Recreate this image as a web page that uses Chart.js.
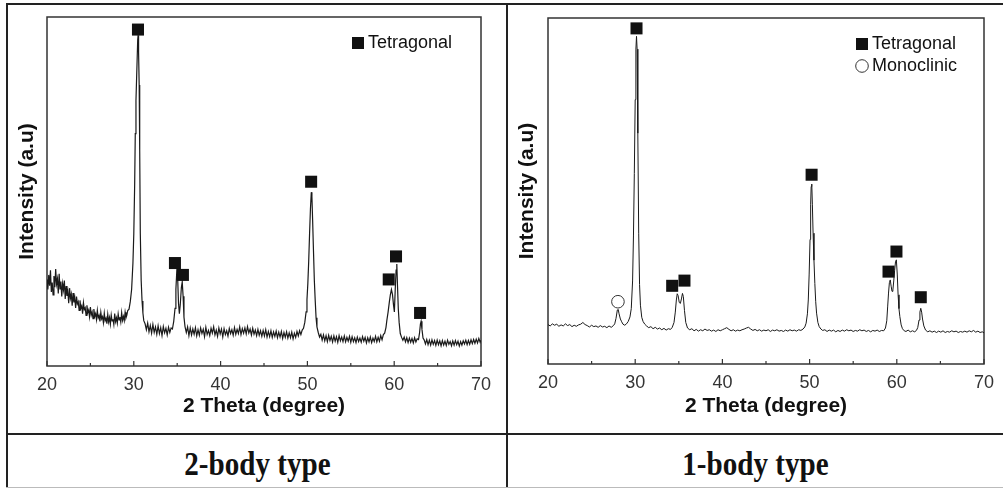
<!DOCTYPE html>
<html>
<head>
<meta charset="utf-8">
<script src="https://cdn.jsdelivr.net/npm/chart.js@4.4.1/dist/chart.umd.min.js"></script>
<style>
  html, body { margin: 0; padding: 0; background: #fff; overflow: hidden; }
  .rule { position: absolute; background: #222; }
  canvas { position: absolute; }
  .caption {
    position: absolute; top: 438px; height: 52px;
    display: flex; align-items: center; justify-content: center;
    font-family: "Times New Roman", "Liberation Serif", serif;
    font-weight: bold; font-size: 30px; color: #111;
  }
  .caption span { display: inline-block; transform: scale(0.97, 1.12); }
</style>
</head>
<body>
<div class="rule" style="left:6px;top:3px;width:997px;height:2px"></div>
<div class="rule" style="left:6px;top:3px;width:2px;height:485px"></div>
<div class="rule" style="left:506px;top:3px;width:2px;height:485px"></div>
<div class="rule" style="left:6px;top:433px;width:997px;height:2px"></div>
<div class="rule" style="left:6px;top:487px;width:997px;height:1px;background:#bbb"></div>

<canvas id="twoBody" width="498" height="428" style="left:8px;top:5px"></canvas>
<canvas id="oneBody" width="495" height="428" style="left:508px;top:5px"></canvas>
<div class="caption" style="left:8px;width:498px"><span id="capLeft"></span></div>
<div class="caption" style="left:508px;width:495px"><span id="capRight"></span></div>

<script>
const captions = ["2-body type", "1-body type"]
const thetaTicks = [20, 30, 40, 50, 60, 70]
const thetaMinorTicks = [25, 35, 45, 55, 65]

// 2-body type scan, [2theta, intensity a.u. 0-100]
const twoBodyScan = [
  [20.00,24.8],[20.10,21.9],[20.20,26.1],[20.30,23.0],[20.40,27.4],[20.50,21.2],[20.60,23.9],[20.70,20.4],
  [20.80,25.8],[20.90,22.6],[21.00,27.8],[21.10,23.5],[21.20,25.0],[21.30,20.8],[21.40,26.4],[21.50,22.1],
  [21.60,24.2],[21.70,19.9],[21.80,23.6],[21.90,21.8],[22.00,24.5],[22.10,19.2],[22.20,22.9],[22.30,20.1],
  [22.40,21.4],[22.50,18.0],[22.60,22.3],[22.70,19.4],[22.80,20.6],[22.90,17.3],[23.00,20.9],[23.10,18.2],
  [23.20,19.5],[23.30,16.6],[23.40,19.9],[23.50,17.8],[23.60,18.4],[23.70,15.9],[23.80,18.8],[23.90,16.5],
  [24.00,17.2],[24.10,15.0],[24.20,18.1],[24.30,16.2],[24.40,16.7],[24.50,14.5],[24.60,17.4],[24.70,15.3],
  [24.80,16.0],[24.90,14.1],[25.00,16.9],[25.10,14.6],[25.20,15.5],[25.30,13.6],[25.40,16.3],[25.50,14.2],
  [25.60,15.0],[25.70,13.3],[25.80,15.9],[25.90,13.8],[26.00,14.5],[26.10,12.8],[26.20,15.4],[26.30,13.5],
  [26.40,14.1],[26.50,12.4],[26.60,15.1],[26.70,13.0],[26.80,13.7],[26.90,12.1],[27.00,14.8],[27.10,12.6],
  [27.20,13.9],[27.30,12.0],[27.40,14.6],[27.50,12.9],[27.60,13.4],[27.70,11.9],[27.80,15.0],[27.90,12.7],
  [28.00,13.8],[28.10,12.3],[28.20,14.9],[28.30,13.2],[28.40,14.0],[28.50,12.6],[28.60,15.3],[28.70,13.1],
  [28.80,14.2],[28.90,13.0],[29.00,15.4],[29.10,13.8],[29.20,14.6],[29.30,15.9],[29.45,16.3],
  [29.60,18.5],[29.75,22.0],[29.90,29.5],[30.00,37.9],[30.10,52.0],[30.17,66.6],[30.25,76.0],[30.36,85.7],
  [30.45,93.5],[30.50,94.8],[30.55,90.0],[30.62,80.5],[30.68,62.0],[30.75,38.0],[30.85,24.5],[30.95,18.6],
  [31.05,15.2],[31.15,13.0],[31.30,12.1],[31.45,10.4],[31.60,12.3],[31.75,9.8],[31.90,11.6],[32.05,9.4],
  [32.20,11.9],[32.35,9.6],[32.50,11.2],[32.65,9.1],[32.80,11.5],[32.95,9.3],[33.10,11.0],[33.25,8.7],
  [33.40,11.3],[33.55,9.5],[33.70,10.8],[33.85,8.9],[34.00,11.1],[34.15,9.6],[34.30,10.9],[34.45,10.6],
  [34.60,12.8],[34.75,16.5],[34.85,22.0],[34.95,27.0],[35.05,25.5],[35.15,18.0],[35.25,15.0],[35.35,17.5],
  [35.48,22.5],[35.58,24.1],[35.68,20.0],[35.78,14.0],[35.90,11.3],[36.05,9.6],[36.20,11.2],[36.35,8.7],
  [36.50,10.9],[36.65,8.9],[36.80,10.6],[36.95,9.1],[37.10,11.0],[37.25,8.6],[37.40,10.4],[37.55,8.8],
  [37.70,10.9],[37.85,9.3],[38.00,10.5],[38.15,8.4],[38.30,11.1],[38.45,9.0],[38.60,10.2],[38.75,8.7],
  [38.90,10.8],[39.05,9.4],[39.20,11.2],[39.35,8.9],[39.50,10.3],[39.65,8.5],[39.80,10.9],[39.95,9.2],
  [40.10,10.6],[40.25,8.3],[40.40,10.7],[40.55,9.0],[40.70,10.1],[40.85,8.6],[41.00,10.8],[41.15,9.3],
  [41.30,10.4],[41.45,8.8],[41.60,11.0],[41.75,9.1],[41.90,10.5],[42.05,9.3],[42.20,11.2],[42.35,9.0],
  [42.50,10.7],[42.65,9.4],[42.80,10.9],[42.95,9.2],[43.10,11.3],[43.25,9.5],[43.40,10.6],[43.55,8.9],
  [43.70,10.8],[43.85,9.1],[44.00,10.3],[44.15,8.7],[44.30,10.5],[44.45,8.8],[44.60,10.1],[44.75,8.5],
  [44.90,10.2],[45.05,8.6],[45.20,10.4],[45.35,8.3],[45.50,9.9],[45.65,8.4],[45.80,10.1],[45.95,8.2],
  [46.10,9.8],[46.25,8.5],[46.40,10.0],[46.55,8.1],[46.70,9.7],[46.85,8.3],[47.00,9.9],[47.15,7.9],
  [47.30,9.6],[47.45,8.2],[47.60,9.8],[47.75,8.0],[47.90,9.5],[48.05,8.1],[48.20,9.7],[48.35,7.8],
  [48.50,9.4],[48.65,8.2],[48.80,9.9],[48.95,8.6],[49.10,10.1],[49.25,9.0],[49.40,10.3],[49.55,10.8],
  [49.70,12.5],[49.85,15.5],[49.95,19.0],[50.05,23.6],[50.15,30.0],[50.25,37.9],[50.35,45.0],[50.45,49.8],
  [50.52,48.5],[50.60,42.0],[50.70,33.0],[50.80,24.5],[50.90,18.8],[51.00,13.8],[51.10,11.2],[51.25,9.6],
  [51.40,8.3],[51.55,9.1],[51.70,7.4],[51.85,8.9],[52.00,7.2],[52.15,8.7],[52.30,7.0],[52.45,8.8],
  [52.60,7.3],[52.75,8.5],[52.90,6.9],[53.05,8.6],[53.20,7.1],[53.35,8.4],[53.50,6.8],[53.65,8.7],
  [53.80,7.2],[53.95,8.3],[54.10,7.0],[54.25,8.6],[54.40,6.9],[54.55,8.2],[54.70,7.1],[54.85,8.5],
  [55.00,6.8],[55.15,8.4],[55.30,7.0],[55.45,8.1],[55.60,6.7],[55.75,8.3],[55.90,7.0],[56.05,8.0],
  [56.20,6.8],[56.35,8.4],[56.50,7.1],[56.65,8.2],[56.80,6.6],[56.95,8.1],[57.10,6.9],[57.25,8.3],
  [57.40,6.7],[57.55,8.0],[57.70,7.0],[57.85,8.5],[58.00,6.9],[58.15,8.2],[58.30,7.1],[58.45,8.7],
  [58.60,7.5],[58.75,9.0],[58.90,9.4],[59.05,11.0],[59.15,13.0],[59.30,15.5],[59.45,18.5],[59.55,20.3],
  [59.68,21.9],[59.80,20.5],[59.92,17.5],[60.02,15.5],[60.12,22.0],[60.22,27.5],[60.30,29.2],[60.38,23.0],
  [60.47,16.5],[60.57,12.5],[60.70,9.3],[60.85,8.2],[61.00,7.4],[61.15,8.3],[61.30,6.9],[61.45,8.1],
  [61.60,6.7],[61.75,8.0],[61.90,6.8],[62.05,7.9],[62.20,6.6],[62.35,8.1],[62.50,6.9],[62.65,7.8],
  [62.80,7.6],[62.92,9.5],[63.02,12.0],[63.10,12.8],[63.20,10.5],[63.32,8.0],[63.45,7.5],[63.60,6.3],
  [63.75,7.6],[63.90,6.1],[64.05,7.4],[64.20,6.0],[64.35,7.5],[64.50,6.2],[64.65,7.3],[64.80,5.9],
  [64.95,7.4],[65.10,6.1],[65.25,7.2],[65.40,5.8],[65.55,7.3],[65.70,6.0],[65.85,7.1],[66.00,5.9],
  [66.15,7.4],[66.30,6.2],[66.45,7.0],[66.60,5.8],[66.75,7.2],[66.90,6.0],[67.05,7.3],[67.20,6.1],
  [67.35,7.1],[67.50,5.7],[67.65,7.0],[67.80,6.0],[67.95,7.2],[68.10,6.3],[68.25,7.4],[68.40,6.1],
  [68.55,7.3],[68.70,6.2],[68.85,7.5],[69.00,6.4],[69.15,7.6],[69.30,6.5],[69.45,7.7],[69.60,6.6],
  [69.75,7.9],[69.90,6.8],[70.00,7.4]
]
const twoBodyTetragonal = [[30.48,96.4],[34.74,29.5],[35.66,26.1],[50.43,52.8],[59.37,24.8],[60.21,31.4],[62.98,15.2]]

// 1-body type scan
const oneBodyScan = [
  [20.00,11.4],[20.25,11.0],[20.50,11.6],[20.75,11.2],[21.00,11.5],[21.25,10.9],[21.50,11.3],[21.75,11.0],
  [22.00,11.6],[22.25,11.1],[22.50,11.4],[22.75,10.8],[23.00,11.2],[23.25,10.9],[23.50,11.3],[23.75,11.5],
  [24.00,12.0],[24.25,11.4],[24.50,11.1],[24.75,10.7],[25.00,11.2],[25.25,10.8],[25.50,11.0],[25.75,10.6],
  [26.00,11.1],[26.25,10.7],[26.50,10.9],[26.75,10.5],[27.00,11.0],[27.25,10.6],[27.50,11.1],[27.65,11.6],
  [27.80,13.2],[27.95,15.6],[28.05,15.8],[28.15,14.5],[28.30,13.0],[28.45,12.2],[28.60,11.5],[28.80,11.2],
  [29.00,11.6],[29.20,12.3],[29.40,13.6],[29.55,16.0],[29.70,24.0],[29.80,37.0],[29.90,55.0],[30.00,76.4],
  [30.08,91.0],[30.15,94.7],[30.22,91.0],[30.30,66.7],[30.40,37.8],[30.50,23.0],[30.60,17.0],[30.75,13.5],
  [30.90,12.3],[31.10,11.5],[31.30,11.0],[31.55,10.5],[31.80,10.8],[32.05,10.2],[32.30,10.6],[32.55,10.1],
  [32.80,10.4],[33.05,9.9],[33.30,10.3],[33.55,9.8],[33.80,10.2],[34.05,10.0],[34.25,10.6],[34.45,12.0],
  [34.60,15.0],[34.72,18.5],[34.82,20.3],[34.92,19.8],[35.05,17.8],[35.18,17.5],[35.30,18.8],[35.42,20.4],
  [35.52,19.5],[35.65,15.5],[35.80,12.0],[36.00,10.4],[36.25,9.9],[36.50,10.2],[36.75,9.6],[37.00,10.0],
  [37.25,9.5],[37.50,9.9],[37.75,9.6],[38.00,10.1],[38.25,9.7],[38.50,9.9],[38.75,9.5],[39.00,9.8],
  [39.25,9.4],[39.50,9.9],[39.75,9.6],[40.00,9.9],[40.25,10.2],[40.50,10.5],[40.75,10.0],[41.00,9.6],
  [41.25,9.9],[41.50,9.5],[41.75,9.8],[42.00,9.6],[42.25,9.9],[42.50,10.1],[42.75,10.4],[43.00,10.6],
  [43.25,10.1],[43.50,9.7],[43.75,10.0],[44.00,9.6],[44.25,9.9],[44.50,9.5],[44.75,9.8],[45.00,9.6],
  [45.25,9.9],[45.50,9.4],[45.75,9.8],[46.00,9.6],[46.25,9.9],[46.50,9.5],[46.75,9.7],[47.00,9.4],
  [47.25,9.8],[47.50,9.5],[47.75,9.9],[48.00,9.6],[48.25,9.8],[48.50,9.5],[48.75,9.9],[49.00,9.7],
  [49.25,10.1],[49.45,10.7],[49.60,11.8],[49.75,14.5],[49.85,18.5],[49.95,26.0],[50.05,36.0],[50.12,46.0],
  [50.18,51.3],[50.25,52.0],[50.32,46.0],[50.40,37.8],[50.50,30.0],[50.60,23.3],[50.70,18.0],[50.80,14.7],
  [50.95,12.0],[51.10,10.8],[51.30,10.1],[51.50,9.7],[51.75,9.9],[52.00,9.4],[52.25,9.8],[52.50,9.5],
  [52.75,9.8],[53.00,9.3],[53.25,9.7],[53.50,9.4],[53.75,9.8],[54.00,9.5],[54.25,9.9],[54.50,9.6],
  [54.75,9.8],[55.00,9.4],[55.25,9.7],[55.50,9.5],[55.75,9.9],[56.00,9.6],[56.25,9.8],[56.50,9.4],
  [56.75,9.7],[57.00,9.3],[57.25,9.7],[57.50,9.5],[57.75,9.8],[58.00,9.4],[58.25,9.7],[58.50,9.6],
  [58.70,10.4],[58.85,12.5],[58.95,16.5],[59.05,20.5],[59.15,23.5],[59.25,24.3],[59.35,22.5],[59.45,21.0],
  [59.55,21.4],[59.65,24.0],[59.75,27.0],[59.85,29.5],[59.95,30.1],[60.05,26.0],[60.15,20.0],[60.25,16.0],
  [60.35,13.7],[60.50,11.3],[60.65,10.2],[60.85,9.6],[61.05,9.4],[61.30,9.8],[61.55,9.3],[61.80,9.6],
  [62.05,9.3],[62.25,9.7],[62.40,10.5],[62.55,12.7],[62.65,15.0],[62.75,16.1],[62.85,15.0],[62.95,13.0],
  [63.10,11.0],[63.30,9.8],[63.55,9.3],[63.80,9.6],[64.05,9.2],[64.30,9.5],[64.55,9.1],[64.80,9.5],
  [65.05,9.2],[65.30,9.6],[65.55,9.1],[65.80,9.4],[66.05,9.2],[66.30,9.6],[66.55,9.3],[66.80,9.5],
  [67.05,9.1],[67.30,9.4],[67.55,9.2],[67.80,9.5],[68.05,9.2],[68.30,9.6],[68.55,9.3],[68.80,9.7],
  [69.05,9.2],[69.30,9.5],[69.55,9.1],[69.80,9.3],[70.00,9.0]
]
const oneBodyTetragonal = [[30.15,97.0],[34.24,22.6],[35.65,24.1],[50.23,54.7],[59.05,26.7],[59.96,32.5],[62.75,19.3]]
const oneBodyMonoclinic = [[28.02,18.0]]

const FONT = 'Arial, "Liberation Sans", sans-serif'
const toXY = rows => rows.map(([x, y]) => ({ x, y }))

// box around the plot + inward ticks on the bottom axis
const xrdFrame = {
  id: 'xrdFrame',
  beforeDatasetsDraw(chart) {
    const { ctx, chartArea: a, scales: { x } } = chart
    ctx.save()
    ctx.strokeStyle = '#333'
    ctx.lineWidth = 1.5
    ctx.strokeRect(a.left, a.top, a.right - a.left, a.bottom - a.top)
    ctx.lineWidth = 1.2
    const tick = (v, len) => {
      const px = x.getPixelForValue(v)
      ctx.beginPath()
      ctx.moveTo(px, a.bottom)
      ctx.lineTo(px, a.bottom - len)
      ctx.stroke()
    }
    thetaTicks.forEach(v => tick(v, 5))
    thetaMinorTicks.forEach(v => tick(v, 3))
    ctx.restore()
  }
}

// phase legend in the top right corner
const phaseLegend = {
  id: 'phaseLegend',
  afterDraw(chart, args, opts) {
    const { ctx, chartArea: a } = chart
    const items = chart.data.datasets.filter(d => d.showLine === false)
    ctx.save()
    items.forEach((d, i) => {
      const cx = a.right + opts.x
      const cy = a.top + opts.y + i * opts.rowGap
      ctx.fillStyle = d.backgroundColor
      ctx.strokeStyle = d.borderColor || d.backgroundColor
      ctx.lineWidth = d.borderWidth
      Chart.helpers.drawPoint(ctx, { pointStyle: d.pointStyle, radius: d.pointRadius, rotation: 0, borderWidth: d.borderWidth }, cx, cy)
      ctx.fillStyle = '#111'
      ctx.font = '18px ' + FONT
      ctx.textBaseline = 'middle'
      ctx.fillText(d.label, cx + opts.textGap, cy)
    })
    ctx.restore()
  }
}

function buildXrdChart(canvas, scan, phases, box) {
  const markerSets = phases.map(p => ({
    label: p.name,
    data: toXY(p.peaks),
    showLine: false,
    pointStyle: p.style,
    pointRadius: p.style === 'rect' ? 8.5 : 6.3,
    backgroundColor: p.style === 'rect' ? '#111' : '#fff',
    borderColor: '#333',
    borderWidth: p.style === 'rect' ? 0 : 1,
    order: 0
  }))

  return new Chart(canvas, {
    type: 'line',
    data: {
      datasets: [
        ...markerSets,
        {
          label: 'scan',
          data: toXY(scan),
          borderColor: '#1a1a1a',
          borderWidth: box.lineWidth,
          pointRadius: 0,
          tension: 0,
          order: 1
        }
      ]
    },
    options: {
      responsive: false,
      animation: false,
      events: [],
      layout: { padding: { top: box.top, right: box.right, left: 0, bottom: 0 } },
      plugins: {
        legend: { display: false },
        tooltip: { enabled: false },
        phaseLegend: { x: box.legendX, y: box.legendY, rowGap: 22, textGap: 10 }
      },
      scales: {
        x: {
          type: 'linear',
          min: 20,
          max: 70,
          afterFit: s => { s.height = box.bottom },
          afterBuildTicks: s => { s.ticks = thetaTicks.map(v => ({ value: v })) },
          grid: { display: false, drawTicks: false },
          border: { display: false },
          ticks: { color: '#333', padding: 8, font: { family: FONT, size: 18 } },
          title: {
            display: true,
            text: '2 Theta (degree)',
            color: '#111',
            font: { family: FONT, size: 21, weight: 'bold' },
            padding: { top: 0, bottom: 14 }
          }
        },
        y: {
          min: 0,
          max: 100,
          afterFit: s => { s.width = box.left },
          grid: { display: false, drawTicks: false },
          border: { display: false },
          ticks: { display: false },
          title: {
            display: true,
            text: 'Intensity (a.u)',
            color: '#111',
            font: { family: FONT, size: 21, weight: 'bold' },
            padding: { top: 7, bottom: 0 }
          }
        }
      }
    },
    plugins: [xrdFrame, phaseLegend]
  })
}

buildXrdChart(document.getElementById('twoBody'), twoBodyScan,
  [{ name: 'Tetragonal', style: 'rect', peaks: twoBodyTetragonal }],
  { left: 39, top: 12, right: 25, bottom: 67, legendX: -123, legendY: 26, lineWidth: 1.2 })

buildXrdChart(document.getElementById('oneBody'), oneBodyScan,
  [{ name: 'Tetragonal', style: 'rect', peaks: oneBodyTetragonal },
   { name: 'Monoclinic', style: 'circle', peaks: oneBodyMonoclinic }],
  { left: 40, top: 13, right: 19, bottom: 69, legendX: -122, legendY: 26, lineWidth: 1 })

document.getElementById('capLeft').textContent = captions[0]
document.getElementById('capRight').textContent = captions[1]
</script>
</body>
</html>
